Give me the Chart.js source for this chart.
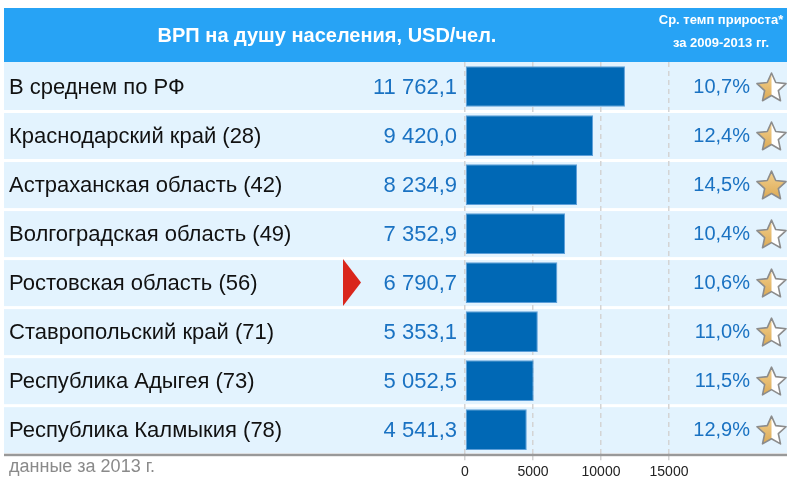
<!DOCTYPE html>
<html><head><meta charset="utf-8">
<script src="https://cdn.jsdelivr.net/npm/chart.js@4/dist/chart.umd.min.js"></script>
<style>html,body{margin:0;padding:0;background:#fff;overflow:hidden}canvas{display:block}</style>
</head><body>
<canvas id="c" width="787" height="479"></canvas>
<script>
const categories = ['В среднем по РФ','Краснодарский край (28)','Астраханская область (42)','Волгоградская область (49)','Ростовская область (56)','Ставропольский край (71)','Республика Адыгея (73)','Республика Калмыкия (78)'];
const gdpPerCapita = [11762.1, 9420.0, 8234.9, 7352.9, 6790.7, 5353.1, 5052.5, 4541.3];
const valueLabels = ['11 762,1','9 420,0','8 234,9','7 352,9','6 790,7','5 353,1','5 052,5','4 541,3'];
const growthLabels = ['10,7%','12,4%','14,5%','10,4%','10,6%','11,0%','11,5%','12,9%'];
const starFill = [0.5, 0.5, 1, 0.5, 0.5, 0.5, 0.5, 0.5];
const highlightIndex = 4;
const xTicks = [0, 5000, 10000, 15000];
const headerTitle = 'ВРП на душу населения, USD/чел.';
const headerRight = ['Ср. темп прироста*', 'за 2009-2013 гг.'];
const footnote = 'данные за 2013 г.';

const FONT = '"Liberation Sans", Arial, sans-serif';
const BLUE_TEXT = '#1a72c2';

function starPath(ctx, cx, cy, R, r) {
  ctx.beginPath();
  for (let i = 0; i < 10; i++) {
    const a = -Math.PI / 2 + i * Math.PI / 5;
    const rad = i % 2 === 0 ? R : r;
    const x = cx + rad * Math.cos(a), y = cy + rad * Math.sin(a);
    if (i === 0) ctx.moveTo(x, y); else ctx.lineTo(x, y);
  }
  ctx.closePath();
}
function drawStar(ctx, cx, cy, fill) {
  const R = 15.3, r = 7.2;
  const g = ctx.createLinearGradient(cx, cy - R, cx, cy + R);
  g.addColorStop(0, '#f3d08e'); g.addColorStop(1, '#d9a650');
  ctx.save();
  starPath(ctx, cx, cy, R, r);
  ctx.fillStyle = '#ffffff'; ctx.fill();
  ctx.save();
  ctx.beginPath();
  ctx.rect(cx - R - 2, cy - R - 2, fill >= 1 ? 2 * R + 4 : R + 2, 2 * R + 4);
  ctx.clip();
  starPath(ctx, cx, cy, R, r);
  ctx.fillStyle = g; ctx.fill();
  ctx.restore();
  starPath(ctx, cx, cy, R, r);
  ctx.lineWidth = 1.6; ctx.strokeStyle = '#8c8c8c'; ctx.lineJoin = 'round'; ctx.stroke();
  ctx.restore();
}

const decor = {
  id: 'decor',
  beforeDraw(chart) {
    const ctx = chart.ctx, y = chart.scales.y;
    ctx.save();
    ctx.fillStyle = '#fff'; ctx.fillRect(0, 0, chart.width, chart.height);
    ctx.fillStyle = '#27a3f5';
    ctx.fillRect(4, 8, 783, 54);
    const step = y.getPixelForValue(1) - y.getPixelForValue(0);
    ctx.fillStyle = '#e3f3fe';
    categories.forEach((c, i) => {
      const cy = y.getPixelForValue(i);
      const top = i === 0 ? 62 : cy - step / 2 + 2;
      ctx.fillRect(4, top, 783, cy + step / 2 - 1 - top);
    });
    ctx.restore();
  },
  afterDraw(chart) {
    const ctx = chart.ctx, y = chart.scales.y;
    const area = chart.chartArea;
    ctx.save();
    ctx.fillStyle = '#999999';
    ctx.fillRect(4, area.bottom - 0.5, 783, 2.5);
    ctx.fillStyle = '#ffffff';
    ctx.textAlign = 'center'; ctx.textBaseline = 'middle';
    ctx.font = 'bold 20px ' + FONT;
    ctx.fillText(headerTitle, 327, 36);
    ctx.font = 'bold 13px ' + FONT;
    ctx.fillText(headerRight[0], 721, 20);
    ctx.fillText(headerRight[1], 721, 43);
    categories.forEach((c, i) => {
      const cy = y.getPixelForValue(i);
      ctx.textBaseline = 'middle';
      ctx.textAlign = 'left'; ctx.fillStyle = '#111111';
      ctx.font = '22px ' + FONT;
      ctx.fillText(c, 9, cy + 1);
      ctx.textAlign = 'right'; ctx.fillStyle = BLUE_TEXT;
      ctx.fillText(valueLabels[i], 457, cy + 1);
      ctx.font = '20px ' + FONT;
      ctx.fillText(growthLabels[i], 750, cy + 1);
      drawStar(ctx, 771.5, cy + 1.8, starFill[i]);
      if (i === highlightIndex) {
        ctx.beginPath();
        ctx.moveTo(343, cy - 23.5); ctx.lineTo(361, cy); ctx.lineTo(343, cy + 23.5);
        ctx.closePath(); ctx.fillStyle = '#d9261c'; ctx.fill();
      }
    });
    ctx.textAlign = 'left'; ctx.textBaseline = 'middle';
    ctx.fillStyle = '#8a8a8a'; ctx.font = '18px ' + FONT;
    ctx.fillText(footnote, 9, 467);
    ctx.restore();
  }
};

new Chart(document.getElementById('c'), {
  type: 'bar',
  data: {
    labels: categories,
    datasets: [{
      data: gdpPerCapita,
      backgroundColor: '#0068b5',
      borderColor: '#5d9fd9',
      borderWidth: 1,
      borderSkipped: false,
      categoryPercentage: 1,
      barPercentage: 0.83
    }]
  },
  options: {
    indexAxis: 'y',
    responsive: false,
    animation: false,
    events: [],
    layout: { padding: { left: 465, right: 118, top: 62, bottom: -6 } },
    plugins: { legend: { display: false }, tooltip: { enabled: false }, title: { display: false } },
    scales: {
      y: { display: false },
      x: {
        position: 'bottom',
        min: 0, max: 15000,
        afterBuildTicks(scale) { scale.ticks = xTicks.map(v => ({ value: v })); },
        grid: { color: '#d4d4d4', lineWidth: 1.5, drawTicks: true, tickLength: 6 },
        border: { display: false, dash: [5, 4] },
        ticks: { padding: 4, color: '#222222', font: { family: FONT, size: 14 }, callback: v => String(v) }
      }
    }
  },
  plugins: [decor]
});
</script>
</body></html>
